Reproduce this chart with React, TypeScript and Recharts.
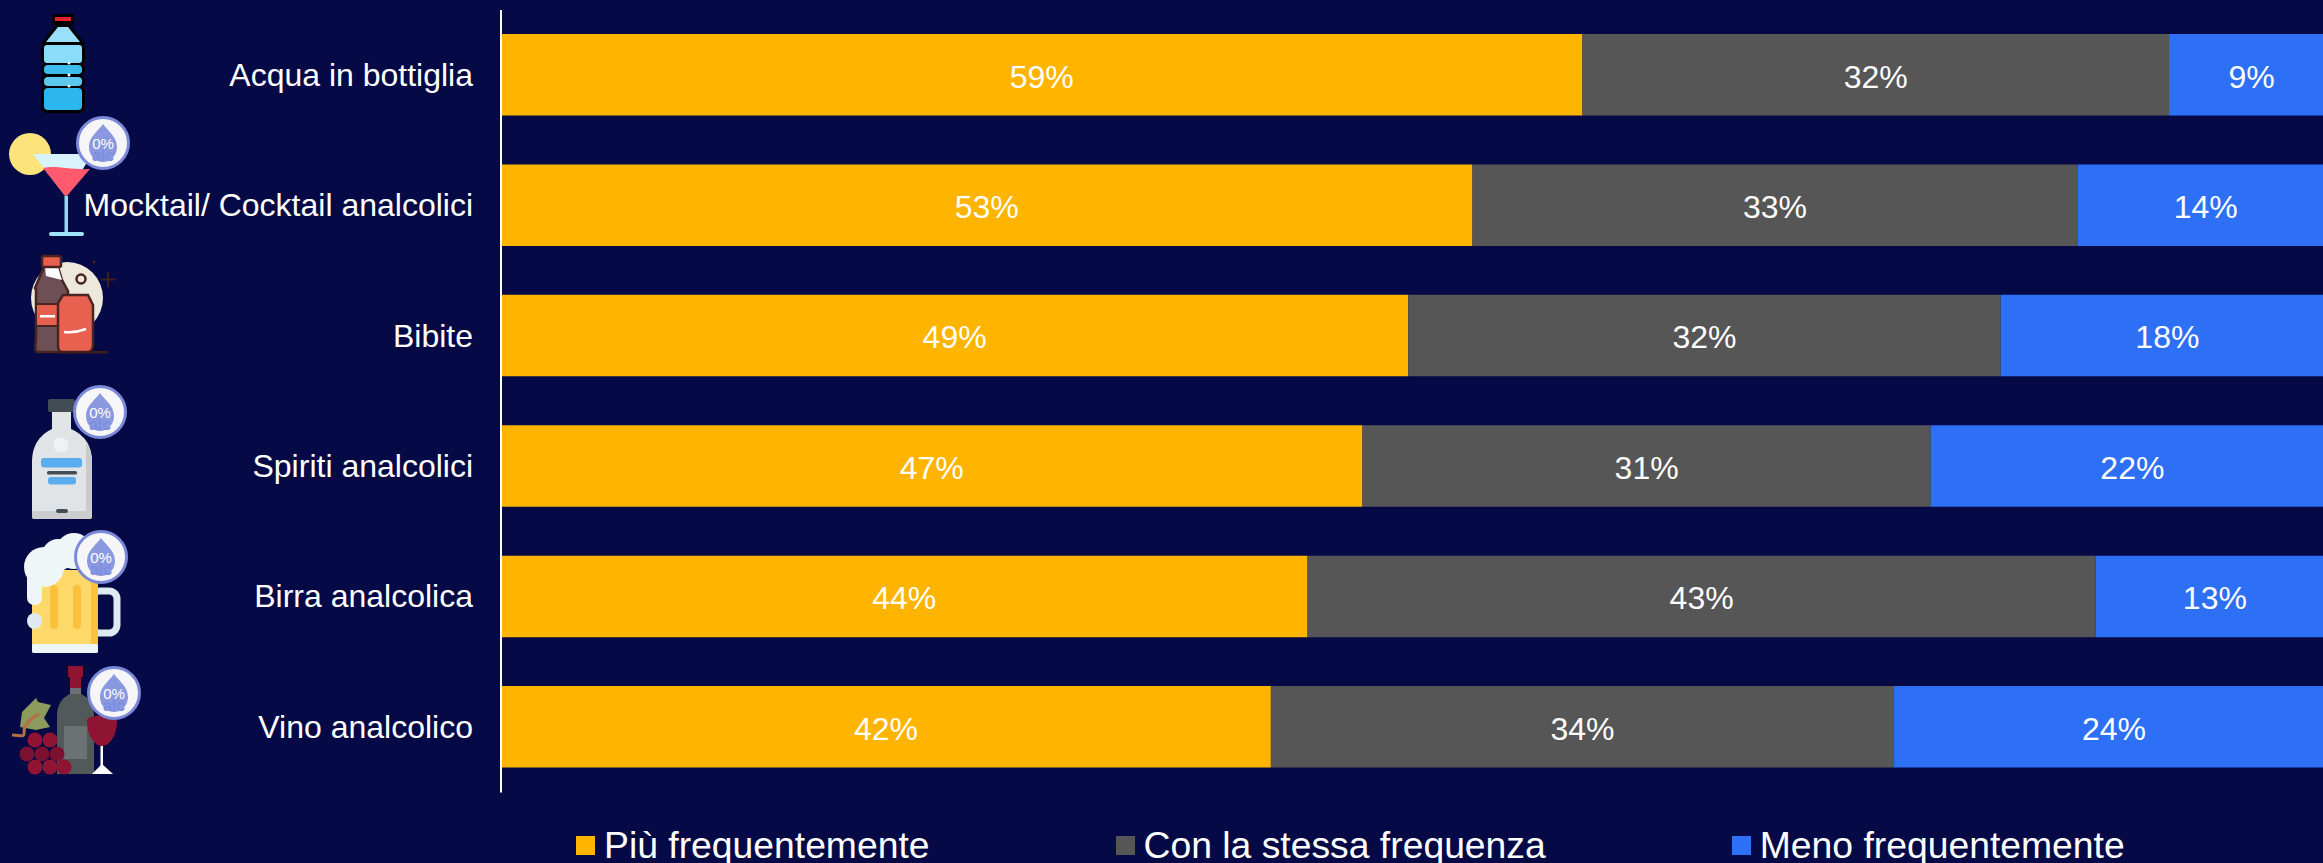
import { Bar, BarChart, LabelList, Legend, XAxis, YAxis } from 'recharts'

const categories = [
  'Acqua in bottiglia',
  'Mocktail/ Cocktail analcolici',
  'Bibite',
  'Spiriti analcolici',
  'Birra analcolica',
  'Vino analcolico',
]
const piuFrequentemente = [59, 53, 49, 47, 44, 42]
const stessaFrequenza = [32, 33, 32, 31, 43, 34]
const menoFrequentemente = [9, 14, 18, 22, 13, 24]

const seriesNames = ['Più frequentemente', 'Con la stessa frequenza', 'Meno frequentemente']
const seriesColors = ['#ffb400', '#565656', '#2d6ff5']

const rows = categories.map((name, i) => ({
  name,
  piu: piuFrequentemente[i],
  stessa: stessaFrequenza[i],
  meno: menoFrequentemente[i],
}))

const FONT = '"Liberation Sans", Arial, sans-serif'
const BACKGROUND = '#050a46'

// "0% alc" roundel that sits on the non-alcoholic drinks
const AlcBadge = ({ cx, cy }: { cx: number; cy: number }) => (
  <g>
    <circle cx={cx} cy={cy} r={25.5} fill="#f6f6f9" stroke="#7a8ad8" strokeWidth={3} />
    <path
      d={`M${cx} ${cy - 19} C${cx + 6} ${cy - 11} ${cx + 14} ${cy - 6} ${cx + 14} ${cy + 4} C${cx + 14} ${cy + 13} ${cx + 7} ${cy + 19} ${cx} ${cy + 19} C${cx - 7} ${cy + 19} ${cx - 14} ${cy + 13} ${cx - 14} ${cy + 4} C${cx - 14} ${cy - 6} ${cx - 6} ${cy - 11} ${cx} ${cy - 19} Z`}
      fill="#8a98e0"
    />
    <text x={cx} y={cy + 5.5} textAnchor="middle" fontSize={15} fontFamily={FONT} fill="#ffffff">
      0%
    </text>
    <text x={cx} y={cy + 18} textAnchor="middle" fontSize={16} fontWeight={700} fontFamily={FONT} fill="#7d8fe0">
      alc
    </text>
  </g>
)

const WaterIcon = () => (
  <g>
    <rect x={52} y={14} width={22} height={11} rx={2} fill="#000" />
    <rect x={55} y={17} width={16} height={4} fill="#e8202c" />
    <path d="M56 24 L70 24 L85 44 L41 44 Z" fill="#000" />
    <path d="M58 27 L68 27 L80 42 L46 42 Z" fill="#9be0fb" />
    <rect x={41} y={43} width={44} height={21} rx={5} fill="#000" />
    <rect x={44} y={45} width={38} height={18} rx={3} fill="#8adcfb" />
    <rect x={41} y={63} width={44} height={13} rx={6} fill="#000" />
    <rect x={44} y={65} width={38} height={9} rx={4} fill="#3cbdee" />
    <rect x={41} y={75} width={44} height={13} rx={6} fill="#000" />
    <rect x={44} y={77} width={38} height={9} rx={4} fill="#5cc8f0" />
    <rect x={41} y={86} width={44} height={27} rx={6} fill="#000" />
    <rect x={44} y={88} width={38} height={22} rx={4} fill="#2cb7ee" />
    <circle cx={69} cy={63} r={1.5} fill="#fff" />
    <circle cx={69} cy={75} r={1.5} fill="#fff" />
    <circle cx={69} cy={86} r={1.5} fill="#fff" />
  </g>
)

const CocktailIcon = () => (
  <g>
    <circle cx={30} cy={154} r={21} fill="#fde47a" />
    <path d="M33 154 L92 154 L66 197 Z" fill="#d8f3fb" />
    <path d="M43 168 C55 165 70 170 90 169 L66 197 Z" fill="#ff5a6e" />
    <rect x={64.5} y={196} width={3.5} height={37} fill="#8fdcf5" />
    <rect x={49} y={232} width={35} height={4} rx={2} fill="#a0e4f8" />
    <AlcBadge cx={103} cy={143} />
  </g>
)

const SodaIcon = () => (
  <g>
    <circle cx={67} cy={298} r={36} fill="#ece9dc" />
    <circle cx={81} cy={279} r={4.5} fill="none" stroke="#4a2420" strokeWidth={2.5} />
    <circle cx={94} cy={262} r={1.5} fill="#4a2420" />
    <path d="M108 272 V287 M101 279.5 H116" stroke="#3f1d1a" strokeWidth={2} />
    <path
      d="M44 267 L58 267 L62 280 L68 291 L68 352 L38 352 C35 352 35 348 36 340 L36 290 L35 288 Z"
      fill="#6d5055"
      stroke="#4a2420"
      strokeWidth={2.5}
    />
    <path d="M45 267 L58 267 L62 280 L46 276 Z" fill="#ffffff" />
    <rect x={42} y={256} width={19} height={11} rx={2} fill="#e5604e" stroke="#4a2420" strokeWidth={2.5} />
    <rect x={36} y={304} width={22} height={22} fill="#e5604e" stroke="#4a2420" strokeWidth={2} />
    <rect x={40} y={315} width={15} height={2.5} fill="#fff" />
    <path
      d="M58 303 L63 295 L88 295 L93 305 L93 345 C93 350 90 352 88 352 L62 352 C59 352 58 350 58 345 Z"
      fill="#e8604f"
      stroke="#4a2420"
      strokeWidth={2.5}
    />
    <path d="M64 332 C72 333 78 332 86 329" stroke="#fff" strokeWidth={2.5} fill="none" />
    <rect x={60} y={351} width={48} height={2.5} fill="#3f1d1a" />
  </g>
)

const SpiritIcon = () => (
  <g>
    <rect x={48} y={399} width={27} height={13} rx={2} fill="#414c55" />
    <rect x={52} y={412} width={19} height={22} fill="#e1e5e8" />
    <path
      d="M52 429 L71 429 C82 434 92 443 92 462 L92 515 C92 518 90 519 88 519 L36 519 C33 519 32 518 32 515 L32 462 C32 443 42 434 52 429 Z"
      fill="#e1e4e7"
    />
    <path d="M86 443 C90 449 92 455 92 462 L92 515 C92 518 90 519 88 519 L86 519 Z" fill="#c8cacc" />
    <rect x={32} y={511} width={60} height={8} rx={2} fill="#cbcdcf" />
    <circle cx={61} cy={445} r={7.5} fill="#f0f1f3" />
    <rect x={41} y={458} width={41} height={9.5} rx={3} fill="#5aaced" />
    <rect x={47} y={471} width={30} height={3.5} rx={1.5} fill="#414c55" />
    <rect x={48} y={477} width={28} height={7.5} rx={3} fill="#5aaced" />
    <rect x={56} y={509} width={12} height={4} rx={2} fill="#414c55" />
    <AlcBadge cx={100} cy={412} />
  </g>
)

const BeerIcon = () => (
  <g>
    <rect x={92} y={591} width={25} height={42} rx={8} fill="none" stroke="#dfe9f0" strokeWidth={7} />
    <rect x={32} y={570} width={66} height={83} rx={2} fill="#ffd86a" />
    <rect x={91} y={570} width={7} height={75} fill="#fdc03f" />
    <rect x={32} y={644} width={66} height={9} rx={2} fill="#eef6f8" />
    <rect x={50} y={585} width={8} height={44} rx={4} fill="#fcc13c" />
    <rect x={73} y={585} width={8} height={44} rx={4} fill="#fcc13c" />
    <circle cx={44} cy={567} r={20} fill="#eef6f8" />
    <circle cx={58} cy={555} r={16} fill="#eef6f8" />
    <circle cx={74} cy={551} r={18} fill="#eef6f8" />
    <rect x={27} y={565} width={15} height={40} rx={7} fill="#eef6f8" />
    <ellipse cx={34.5} cy={621} rx={7.5} ry={8} fill="#dfe9f0" />
    <AlcBadge cx={101} cy={557} />
  </g>
)

const WineIcon = () => (
  <g>
    <path d="M20 727 L22 712 L36 698 L38 702 L51 705 L44 718 L50 727 L36 730 Z" fill="#8c9a5b" />
    <path d="M12 735 C20 735 25 738 24 732 C24 724 30 719 39 714" fill="none" stroke="#b47048" strokeWidth={3} />
    <rect x={68} y={666} width={15} height={11} fill="#8f1434" />
    <rect x={70} y={677} width={11} height={12} fill="#8f1434" />
    <rect x={70} y={688} width={11} height={8} fill="#6c7072" />
    <path d="M70 694 L81 694 C90 698 94 706 94 716 L94 774 L57 774 L57 716 C57 706 61 698 70 694 Z" fill="#52595a" />
    <rect x={64} y={726} width={23} height={33} fill="#6c7172" />
    <path d="M87 720 C87 714 117 714 117 720 C117 738 108 746 102 746 C96 746 87 738 87 720 Z" fill="#8f1434" />
    <rect x={100.5} y={746} width={2.5} height={24} fill="#fff" />
    <path d="M92 774 L113 774 L102 764 Z" fill="#fff" />
    {[
      [35, 740],
      [50, 740],
      [35, 767],
      [50, 767],
      [64, 767],
    ].map(([cx, cy]) => (
      <circle key={`${cx}-${cy}`} cx={cx} cy={cy} r={7.5} fill="#8f1434" />
    ))}
    {[
      [27, 754],
      [42, 754],
      [57, 754],
    ].map(([cx, cy]) => (
      <circle key={`${cx}-${cy}`} cx={cx} cy={cy} r={7.5} fill="#7c1030" />
    ))}
    <AlcBadge cx={114} cy={693} />
  </g>
)

const icons = [WaterIcon, CocktailIcon, SodaIcon, SpiritIcon, BeerIcon, WineIcon]

const CategoryTick = ({ y, payload, index }: { y: number; payload: { value: string }; index: number }) => {
  const Icon = icons[index]
  return (
    <g>
      <Icon />
      <text x={473} y={y + 10.5} textAnchor="end" fontSize={32} fontFamily={FONT} fill="#ffffff">
        {payload.value}
      </text>
    </g>
  )
}

const LegendRow = () => (
  <div style={{ display: 'flex', gap: 186, whiteSpace: 'nowrap', fontFamily: FONT, fontSize: 37.3, color: '#fff' }}>
    {seriesNames.map((name, i) => (
      <div key={name} style={{ display: 'flex', alignItems: 'center', gap: 9 }}>
        <span style={{ width: 19, height: 19, background: seriesColors[i], display: 'block' }} />
        <span>{name}</span>
      </div>
    ))}
  </div>
)

const percent = (v: number) => `${v}%`

export default function App() {
  return (
    <div style={{ position: 'absolute', left: 0, top: 0, width: 2323, height: 863, overflow: 'hidden', background: BACKGROUND }}>
      <BarChart
        width={2340}
        height={863}
        data={rows}
        layout="vertical"
        stackOffset="expand"
        margin={{ top: 10, right: 6, bottom: 70.5, left: 0 }}
        barSize={81.5}
      >
        <XAxis type="number" domain={[0, 1]} hide />
        <YAxis
          type="category"
          dataKey="name"
          width={501}
          interval={0}
          tickLine={false}
          axisLine={{ stroke: '#ffffff', strokeWidth: 2 }}
          tick={CategoryTick}
        />
        <Bar dataKey="piu" stackId="a" fill={seriesColors[0]} isAnimationActive={false}>
          <LabelList dataKey="piu" position="center" formatter={percent} fill="#ffffff" fontSize={32} fontFamily={FONT} dy={1.5} />
        </Bar>
        <Bar dataKey="stessa" stackId="a" fill={seriesColors[1]} isAnimationActive={false}>
          <LabelList dataKey="stessa" position="center" formatter={percent} fill="#ffffff" fontSize={32} fontFamily={FONT} dy={1.5} />
        </Bar>
        <Bar dataKey="meno" stackId="a" fill={seriesColors[2]} isAnimationActive={false}>
          <LabelList dataKey="meno" position="center" formatter={percent} fill="#ffffff" fontSize={32} fontFamily={FONT} dy={1.5} />
        </Bar>
        <Legend
          verticalAlign="middle"
          align="center"
          content={LegendRow}
          wrapperStyle={{ position: 'absolute', left: 576, top: 824, width: 'auto' }}
        />
      </BarChart>
    </div>
  )
}
